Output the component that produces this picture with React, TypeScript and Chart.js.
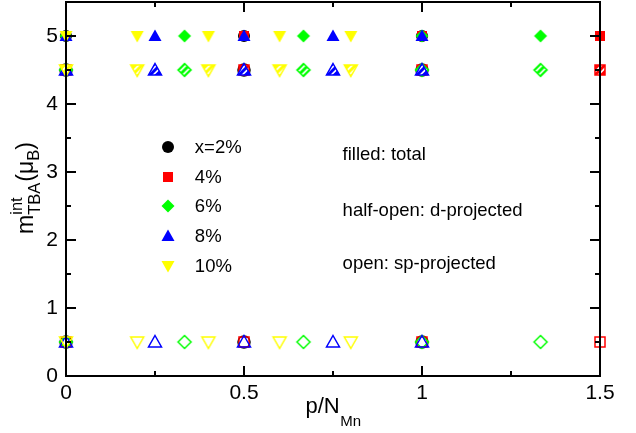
import React, { useEffect, useRef } from "react";
import { Chart, registerables } from "chart.js";

Chart.register(...registerables);

// ---- data ----
const seriesLabels = ["x=2%", "4%", "6%", "8%", "10%"];
const seriesColors = ["#000000", "#ff0000", "#00ff00", "#0000ff", "#ffff00"];
const seriesShapes = ["circle", "square", "diamond", "triUp", "triDown"];

const pRatio2 = [0, 0.5, 1];
const pRatio4 = [0, 0.5, 1, 1.5];
const pRatio6 = [0, 0.333, 0.667, 1, 1.333];
const pRatio8 = [0, 0.25, 0.5, 0.75, 1];
const pRatio10 = [0, 0.2, 0.4, 0.6, 0.8];

const mTotal2 = [5, 5, 5];
const mD2 = [4.5, 4.5, 4.5];
const mSp2 = [0.5, 0.5, 0.5];
const mTotal4 = [5, 5, 5, 5];
const mD4 = [4.5, 4.5, 4.5, 4.5];
const mSp4 = [0.5, 0.5, 0.5, 0.5];
const mTotal6 = [5, 5, 5, 5, 5];
const mD6 = [4.5, 4.5, 4.5, 4.5, 4.5];
const mSp6 = [0.5, 0.5, 0.5, 0.5, 0.5];
const mTotal8 = [5, 5, 5, 5, 5];
const mD8 = [4.5, 4.5, 4.5, 4.5, 4.5];
const mSp8 = [0.5, 0.5, 0.5, 0.5, 0.5];
const mTotal10 = [5, 5, 5, 5, 5];
const mD10 = [4.5, 4.5, 4.5, 4.5, 4.5];
const mSp10 = [0.5, 0.5, 0.5, 0.5, 0.5];

const pRatios = [pRatio2, pRatio4, pRatio6, pRatio8, pRatio10];
const mTotals = [mTotal2, mTotal4, mTotal6, mTotal8, mTotal10];
const mDs = [mD2, mD4, mD6, mD8, mD10];
const mSps = [mSp2, mSp4, mSp6, mSp8, mSp10];

const xTickLabels = [0, 0.5, 1, 1.5];
const yTickLabels = [0, 1, 2, 3, 4, 5];
const annotationTexts = ["filled: total", "half-open: d-projected", "open: sp-projected"];

const FONT = "'Liberation Sans', Arial, Helvetica, sans-serif";

type Mode = "filled" | "half" | "open";

function makeMarker(shape: string, color: string, mode: Mode): HTMLCanvasElement {
  const S = 18;
  const c = document.createElement("canvas");
  c.width = S;
  c.height = S;
  const ctx = c.getContext("2d")!;
  const cx = S / 2;
  const cy = S / 2;
  const path = () => {
    ctx.beginPath();
    switch (shape) {
      case "circle":
        ctx.arc(cx, cy, 6, 0, Math.PI * 2);
        break;
      case "square":
        ctx.rect(cx - 5, cy - 5, 10, 10);
        break;
      case "diamond":
        ctx.moveTo(cx, cy - 6.5);
        ctx.lineTo(cx + 6.5, cy);
        ctx.lineTo(cx, cy + 6.5);
        ctx.lineTo(cx - 6.5, cy);
        ctx.closePath();
        break;
      case "triUp":
        ctx.moveTo(cx, cy - 6.5);
        ctx.lineTo(cx + 6.5, cy + 5);
        ctx.lineTo(cx - 6.5, cy + 5);
        ctx.closePath();
        break;
      case "triDown":
        ctx.moveTo(cx, cy + 6.5);
        ctx.lineTo(cx + 6.5, cy - 5);
        ctx.lineTo(cx - 6.5, cy - 5);
        ctx.closePath();
        break;
    }
  };
  ctx.fillStyle = color;
  ctx.strokeStyle = color;
  ctx.lineWidth = 1.5;
  if (mode === "filled") {
    path();
    ctx.fill();
  } else if (mode === "open") {
    path();
    ctx.stroke();
  } else {
    path();
    ctx.fill();
    ctx.save();
    path();
    ctx.clip();
    ctx.strokeStyle = "#ffffff";
    ctx.lineWidth = 1.6;
    for (const o of [-2.3, 2.3]) {
      const d = o / Math.SQRT2;
      ctx.beginPath();
      ctx.moveTo(cx + d - 10, cy + d + 10);
      ctx.lineTo(cx + d + 10, cy + d - 10);
      ctx.stroke();
    }
    ctx.restore();
    ctx.strokeStyle = color;
    ctx.lineWidth = 1.5;
    path();
    ctx.stroke();
  }
  return c;
}

// legend / annotation anchor positions in data units
const legendX = 0.286;
const legendTextX = 0.362;
const legendTopY = 3.37;
const legendStepY = 0.437;
const annotX = 0.777;
const annotYs = [3.27, 2.44, 1.66];

const decorPlugin = {
  id: "decor",
  afterDatasetsDraw(chart: any) {
    const ctx: CanvasRenderingContext2D = chart.ctx;
    const { left, right, top, bottom } = chart.chartArea;
    const xs = chart.scales.x;
    const ys = chart.scales.y;
    ctx.save();
    ctx.strokeStyle = "#000";
    ctx.lineWidth = 2;
    ctx.strokeRect(left, top, right - left, bottom - top);
    // x ticks (bottom and top, inward)
    for (const t of xs.ticks) {
      const px = Math.round(xs.getPixelForValue(t.value));
      const major = xTickLabels.some((v) => Math.abs(v - t.value) < 1e-6);
      const len = major ? 10 : 5;
      ctx.beginPath();
      ctx.moveTo(px, bottom);
      ctx.lineTo(px, bottom - len);
      ctx.moveTo(px, top);
      ctx.lineTo(px, top + len);
      ctx.stroke();
    }
    for (const t of ys.ticks) {
      const py = Math.round(ys.getPixelForValue(t.value));
      const major = yTickLabels.some((v) => Math.abs(v - t.value) < 1e-6);
      const len = major ? 10 : 5;
      ctx.beginPath();
      ctx.moveTo(left, py);
      ctx.lineTo(left + len, py);
      ctx.moveTo(right, py);
      ctx.lineTo(right - len, py);
      ctx.stroke();
    }
    // legend
    ctx.fillStyle = "#000";
    ctx.font = `18.5px ${FONT}`;
    ctx.textBaseline = "middle";
    ctx.textAlign = "left";
    const mx = xs.getPixelForValue(legendX);
    const tx = xs.getPixelForValue(legendTextX);
    seriesLabels.forEach((lab, i) => {
      const py = Math.round(ys.getPixelForValue(legendTopY - i * legendStepY));
      const img = makeMarker(seriesShapes[i], seriesColors[i], "filled");
      ctx.drawImage(img, Math.round(mx) - 9, py - 9);
      ctx.fillStyle = "#000";
      ctx.fillText(lab, tx, py + 1);
    });
    // annotations
    const ax = xs.getPixelForValue(annotX);
    annotationTexts.forEach((s, i) => {
      ctx.fillText(s, ax, ys.getPixelForValue(annotYs[i]) + 1);
    });
    // x title
    ctx.textBaseline = "alphabetic";
    const mainX = `22px ${FONT}`;
    const subX = `15px ${FONT}`;
    ctx.font = mainX;
    const w1 = ctx.measureText("p/N").width;
    ctx.font = subX;
    const w2 = ctx.measureText("Mn").width;
    const xc = (left + right) / 2;
    const sx = xc - (w1 + w2) / 2;
    ctx.font = mainX;
    ctx.fillText("p/N", sx, 413);
    ctx.font = subX;
    ctx.fillText("Mn", sx + w1 + 0.5, 426);
    // y title (rotated)
    ctx.save();
    ctx.translate(33, 188);
    ctx.rotate(-Math.PI / 2);
    const mainY = `23px ${FONT}`;
    const subY = `16.5px ${FONT}`;
    ctx.font = mainY;
    const wm = ctx.measureText("m").width;
    ctx.font = subY;
    const wInt = ctx.measureText("int").width;
    const wTBA = ctx.measureText("TBA").width;
    const wB = ctx.measureText("B").width;
    ctx.font = mainY;
    const wParen = ctx.measureText("(\u03bc").width;
    const wClose = ctx.measureText(")").width;
    const total = wm + Math.max(wInt, wTBA) + 1 + wParen + wB + wClose;
    let p = -total / 2;
    ctx.font = mainY;
    ctx.fillText("m", p, 0);
    p += wm;
    ctx.font = subY;
    ctx.fillText("int", p, -11);
    ctx.fillText("TBA", p, 7);
    p += Math.max(wInt, wTBA) + 1;
    ctx.font = mainY;
    ctx.fillText("(\u03bc", p, 0);
    p += wParen;
    ctx.font = subY;
    ctx.fillText("B", p, 6);
    p += wB;
    ctx.font = mainY;
    ctx.fillText(")", p, 0);
    ctx.restore();
    ctx.restore();
  },
};

export default function App() {
  const ref = useRef<HTMLCanvasElement | null>(null);
  useEffect(() => {
    if (!ref.current) return;
    const datasets: any[] = [];
    const modes: [Mode, number[][]][] = [
      ["filled", mTotals],
      ["half", mDs],
      ["open", mSps],
    ];
    seriesLabels.forEach((lab, i) => {
      modes.forEach(([mode, vals]) => {
        datasets.push({
          label: `${lab} ${mode}`,
          data: pRatios[i].map((x, k) => ({ x, y: vals[i][k] })),
          pointStyle: makeMarker(seriesShapes[i], seriesColors[i], mode),
          pointRadius: 6,
          showLine: false,
          clip: false,
          order: 10 - i,
        });
      });
    });
    const chart = new Chart(ref.current, {
      type: "scatter",
      data: { datasets },
      options: {
        animation: false,
        responsive: true,
        maintainAspectRatio: false,
        layout: { autoPadding: false, padding: { top: 2, right: 36, left: 0, bottom: 0 } },
        plugins: { legend: { display: false }, tooltip: { enabled: false } },
        scales: {
          x: {
            type: "linear",
            min: 0,
            max: 1.5,
            afterFit: (s: any) => {
              s.height = 57;
              s.paddingLeft = 0;
              s.paddingRight = 0;
            },
            grid: { display: false, drawTicks: false },
            border: { display: false },
            ticks: {
              stepSize: 0.25,
              autoSkip: false,
              maxRotation: 0,
              padding: 5,
              color: "#000",
              font: { family: FONT, size: 21 },
              callback: (v: any) =>
                xTickLabels.some((t) => Math.abs(t - v) < 1e-6) ? String(v) : "",
            },
          },
          y: {
            type: "linear",
            min: 0,
            max: 5.5,
            afterFit: (s: any) => {
              s.width = 66;
              s.paddingTop = 0;
              s.paddingBottom = 0;
            },
            grid: { display: false, drawTicks: false },
            border: { display: false },
            ticks: {
              stepSize: 0.5,
              autoSkip: false,
              padding: 8,
              color: "#000",
              font: { family: FONT, size: 21 },
              callback: (v: any) =>
                yTickLabels.some((t) => Math.abs(t - v) < 1e-6) ? String(v) : "",
            },
          },
        },
      },
      plugins: [decorPlugin],
    });
    return () => chart.destroy();
  }, []);
  return (
    <div style={{ position: "absolute", left: 0, top: 0, width: 636, height: 433, background: "#fff" }}>
      <canvas ref={ref} />
    </div>
  );
}
